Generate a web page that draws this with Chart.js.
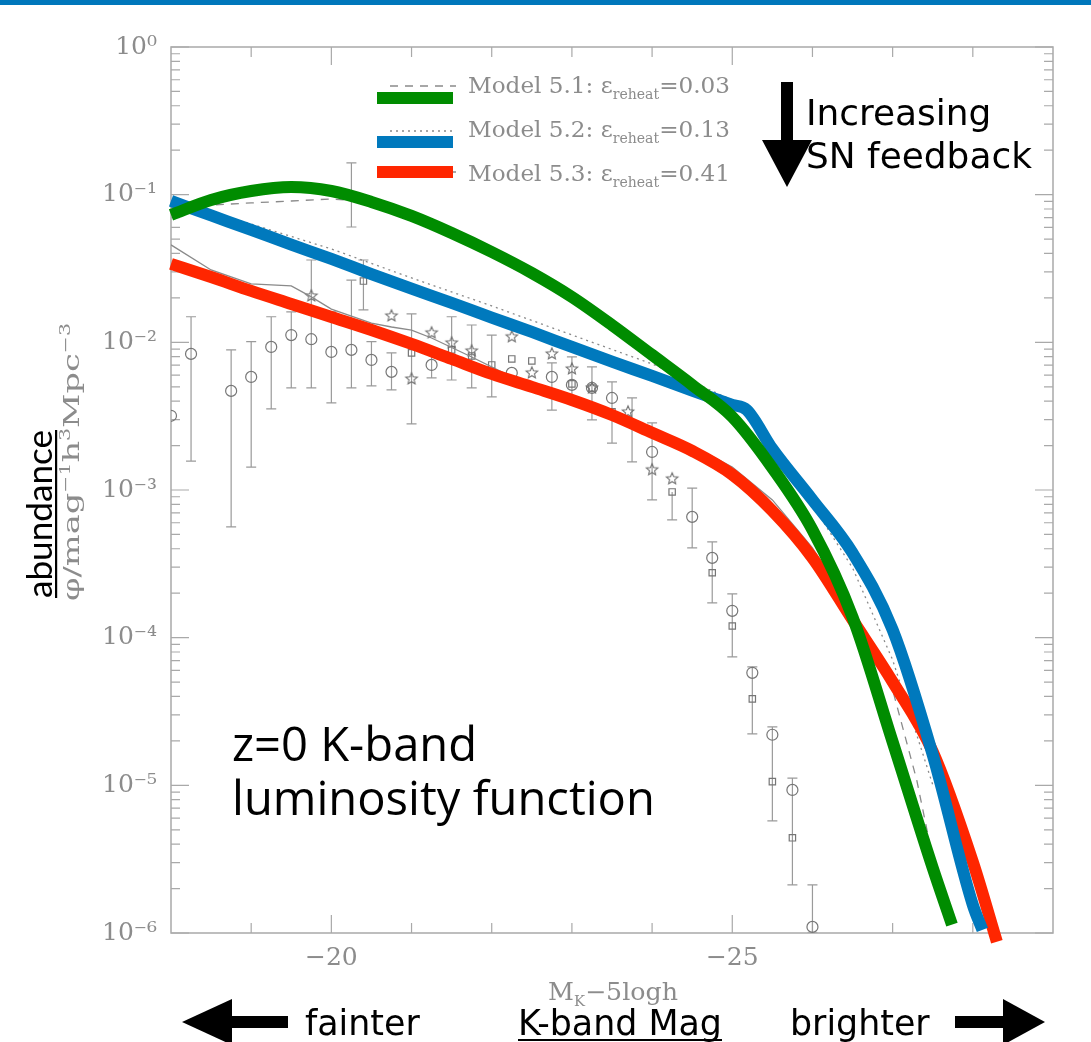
<!DOCTYPE html>
<html><head><meta charset="utf-8">
<script src="https://cdn.jsdelivr.net/npm/chart.js@4/dist/chart.umd.min.js"></script>
<style>html,body{margin:0;padding:0;background:#fff;overflow:hidden}</style>
</head><body>
<canvas id="c" width="1091" height="1042"></canvas>
<script>
// ---------- axis ranges / ticks ----------
const xRange = [-29, -18];
const yRange = [1e-6, 1];
const xTickValues = [-20, -25];
const yTickValues = [1, 1e-1, 1e-2, 1e-3, 1e-4, 1e-5, 1e-6];

// ---------- thick model curves (hand drawn over) ----------
const greenMag = [-18,-18.5,-19,-19.5,-20,-20.5,-21,-21.5,-22,-22.5,-23,-23.5,-24,-24.5,-25,-25.5,-26,-26.5,-27,-27.5,-27.74];
const greenPhi = [0.0729,0.0921,0.1059,0.1127,0.1059,0.0893,0.0718,0.0550,0.0409,0.0295,0.0203,0.0131,0.00822,0.00515,0.00313,0.00141,5.37e-4,1.38e-4,1.97e-5,2.76e-6,1.14e-6];
const blueMag = [-18,-18.5,-19,-19.5,-20,-20.5,-21,-21.5,-22,-22.5,-23,-23.5,-24,-24.5,-25,-25.18,-25.5,-26,-26.5,-27,-27.5,-28,-28.12];
const bluePhi = [0.0907,0.0723,0.0577,0.0459,0.0367,0.0290,0.0231,0.0185,0.0147,0.01176,0.00931,0.00740,0.00592,0.00471,0.00377,0.00349,0.00190,8.57e-4,3.75e-4,1.13e-4,1.61e-5,1.55e-6,1.05e-6];
const redMag = [-18,-18.5,-19,-19.5,-20,-20.5,-21,-21.5,-22,-22.5,-23,-23.5,-24,-24.5,-25,-25.5,-26,-26.5,-27,-27.5,-28,-28.3];
const redPhi = [0.0340,0.0277,0.0223,0.0182,0.01486,0.01213,0.00975,0.00772,0.00611,0.00499,0.00407,0.00322,0.00244,0.00184,0.00127,7.22e-4,3.47e-4,1.32e-4,5.02e-5,1.69e-5,3.03e-6,8.72e-7];

// ---------- thin original model lines ----------
const m51Mag = [-18,-18.5,-19,-19.5,-20,-20.5,-21,-21.5,-22,-22.5,-23,-23.5,-24,-24.5,-25,-25.5,-26,-26.5,-27,-27.3,-27.53];
const m51Phi = [0.0813,0.0851,0.0879,0.0906,0.0935,0.0893,0.0718,0.0550,0.0409,0.0295,0.0203,0.0131,0.00822,0.00515,0.00313,0.00141,5.9e-4,1.54e-4,4.43e-5,1.09e-5,2.68e-6];
const m52Mag = [-18,-19,-20,-21,-22,-23,-24,-25,-25.5,-26,-26.5,-27,-27.5];
const m52Phi = [0.0907,0.0633,0.0429,0.0273,0.01764,0.01122,0.00714,0.00407,0.00202,7.93e-4,2.97e-4,7.07e-5,1.01e-5];
const m53Mag = [-18,-18.5,-19,-19.5,-19.75,-20,-20.5,-20.75,-21,-21.25,-21.75,-22.25,-22.75,-23.5,-24,-24.5,-25,-25.5,-26,-26.5,-27,-27.5,-28];
const m53Phi = [0.0457,0.0309,0.0249,0.0241,0.0203,0.0168,0.0135,0.0127,0.0121,0.0107,7.96e-3,5.83e-3,4.47e-3,3.48e-3,2.63e-3,1.99e-3,1.43e-3,8.57e-4,4.06e-4,1.50e-4,5.60e-5,1.74e-5,3.13e-6];

// ---------- observational points ----------
const circMag = [-18.0,-18.25,-18.75,-19.0,-19.25,-19.5,-19.75,-20.0,-20.25,-20.5,-20.75,-21.25,-22.25,-22.75,-23.0,-23.25,-23.5,-24.0,-24.5,-24.75,-25.0,-25.25,-25.5,-25.75,-26.0];
const circPhi = [3.18e-3,8.35e-3,4.69e-3,5.83e-3,9.31e-3,1.12e-2,1.05e-2,8.61e-3,8.89e-3,7.60e-3,6.31e-3,7.03e-3,6.21e-3,5.83e-3,5.15e-3,4.91e-3,4.20e-3,1.81e-3,6.58e-4,3.47e-4,1.52e-4,5.78e-5,2.20e-5,9.31e-6,1.10e-6];
const circLo  = [null,1.57e-3,5.62e-4,1.43e-3,3.54e-3,4.91e-3,4.91e-3,3.89e-3,4.91e-3,5.07e-3,4.76e-3,5.74e-3,null,3.48e-3,4.07e-3,2.98e-3,null,8.57e-4,4.06e-4,null,7.41e-5,null,5.75e-6,2.12e-6,1e-6];
const circHi  = [null,1.49e-2,8.89e-3,1.01e-2,1.49e-2,1.61e-2,3.61e-2,1.61e-2,2.64e-2,1.01e-2,8.48e-3,8.61e-3,null,7.26e-3,7.96e-3,6.81e-3,null,2.85e-3,1.03e-3,null,1.98e-4,null,2.49e-5,1.12e-5,2.12e-6];

const sqMag = [-20.25,-20.4,-21.0,-21.5,-21.75,-22.0,-22.25,-22.5,-23.0,-23.25,-23.5,-23.75,-24.25,-24.75,-25.0,-25.25,-25.5,-25.75];
const sqPhi = [9.95e-2,2.60e-2,8.48e-3,8.89e-3,8.09e-3,7.03e-3,7.72e-3,7.48e-3,5.23e-3,4.91e-3,3.38e-3,2.80e-3,9.70e-4,2.75e-4,1.20e-4,3.85e-5,1.06e-5,4.41e-6];
const sqLo  = [6.04e-2,1.66e-2,null,5.56e-3,4.91e-3,4.27e-3,null,null,null,null,2.08e-3,1.55e-3,6.28e-4,1.72e-4,null,2.23e-5,null,null];
const sqHi  = [1.64e-1,3.61e-2,null,1.49e-2,1.31e-2,1.12e-2,null,null,null,null,5.40e-3,4.20e-3,null,4.45e-4,null,6.34e-5,null,null];

const starMag = [-19.75,-20.75,-21.0,-21.25,-21.5,-21.75,-22.25,-22.5,-22.75,-23.0,-23.25,-23.7,-24.0,-24.25];
const starPhi = [2.06e-2,1.51e-2,5.65e-3,1.16e-2,9.91e-3,8.75e-3,1.09e-2,6.21e-3,8.35e-3,6.61e-3,4.91e-3,3.38e-3,1.37e-3,1.19e-3];
const starLo  = [null,null,2.80e-3,null,null,null,null,null,null,null,null,null,null,null];
const starHi  = [null,null,1.56e-2,null,null,null,null,null,null,null,null,null,null,null];

// ---------- text ----------
const legendLabels = [['Model 5.1: ', '=0.03'], ['Model 5.2: ', '=0.13'], ['Model 5.3: ', '=0.41']];

const GREEN = '#008c00', BLUE = '#0079bd', RED = '#ff2600', GRAY = '#8a8a8a', FRAME = '#a9a9a9';
const SERIF = '"DejaVu Serif"';

const pts = (xs, ys) => xs.map((x, i) => ({x, y: ys[i]}));
const supMap = {'-':'\u207B','0':'\u2070','1':'\u00B9','2':'\u00B2','3':'\u00B3','4':'\u2074','5':'\u2075','6':'\u2076','7':'\u2077','8':'\u2078','9':'\u2079'};
const yLabel = v => '10' + String(Math.round(Math.log10(v))).split('').map(c => supMap[c]).join('');

function starImage(r) {
  const c = document.createElement('canvas');
  c.width = c.height = 2 * r + 4;
  const g = c.getContext('2d');
  const cx = r + 2, cy = r + 2;
  g.strokeStyle = '#707070'; g.lineWidth = 1.1;
  g.beginPath();
  for (let i = 0; i < 10; i++) {
    const a = -Math.PI / 2 + i * Math.PI / 5;
    const rr = i % 2 ? r * 0.45 : r;
    g.lineTo(cx + rr * Math.cos(a), cy + rr * Math.sin(a));
  }
  g.closePath(); g.stroke();
  return c;
}

function thick(label, xs, ys, color) {
  return {label, data: pts(xs, ys), borderColor: color, borderWidth: 12, pointRadius: 0,
    cubicInterpolationMode: 'monotone', borderCapStyle: 'butt', borderJoinStyle: 'round', clip: false, fill: false};
}
function thin(label, xs, ys, dash) {
  return {label, data: pts(xs, ys), borderColor: GRAY, borderWidth: 1.3, pointRadius: 0, tension: 0,
    borderDash: dash, fill: false};
}
function marks(label, xs, ys, style, r, lo, hi) {
  return {label, data: pts(xs, ys), showLine: false, pointStyle: style, pointRadius: r,
    pointBorderColor: '#767676', pointBackgroundColor: 'rgba(0,0,0,0)', pointBorderWidth: 1.2,
    errLo: lo, errHi: hi};
}

const errorBars = {
  id: 'errorBars',
  beforeDatasetsDraw(chart) {
    const {ctx, chartArea: a} = chart;
    const xs = chart.scales.x, ys = chart.scales.y;
    ctx.save();
    ctx.beginPath(); ctx.rect(a.left, a.top, a.right - a.left, a.bottom - a.top); ctx.clip();
    ctx.strokeStyle = '#9a9a9a'; ctx.lineWidth = 1.2;
    chart.data.datasets.forEach(ds => {
      if (!ds.errLo) return;
      ds.data.forEach((p, i) => {
        const lo = ds.errLo[i], hi = ds.errHi[i];
        if (lo == null && hi == null) return;
        const px = xs.getPixelForValue(p.x);
        const y1 = ys.getPixelForValue(hi != null ? hi : p.y);
        const y2 = ys.getPixelForValue(lo != null ? lo : p.y);
        ctx.beginPath(); ctx.moveTo(px, y1); ctx.lineTo(px, y2);
        if (hi != null) { ctx.moveTo(px - 5, y1); ctx.lineTo(px + 5, y1); }
        if (lo != null) { ctx.moveTo(px - 5, y2); ctx.lineTo(px + 5, y2); }
        ctx.stroke();
      });
    });
    ctx.restore();
  }
};

const frame = {
  id: 'frame',
  beforeDatasetsDraw(chart) {
    const {ctx, chartArea: a} = chart;
    const xs = chart.scales.x, ys = chart.scales.y;
    ctx.save();
    ctx.strokeStyle = FRAME; ctx.lineWidth = 1.5;
    ctx.strokeRect(a.left, a.top, a.right - a.left, a.bottom - a.top);
    ctx.lineWidth = 1.2;
    ctx.beginPath();
    for (let e = -6; e <= 0; e++) {
      for (let k = 1; k <= 9; k++) {
        const v = k * Math.pow(10, e);
        if (v > 1.0000001 || v < 0.9999e-6) continue;
        const py = ys.getPixelForValue(v);
        const len = k === 1 ? 18 : 9;
        ctx.moveTo(a.left, py); ctx.lineTo(a.left + len, py);
        ctx.moveTo(a.right, py); ctx.lineTo(a.right - len, py);
      }
    }
    for (let m = -19; m >= -28; m--) {
      const px = xs.getPixelForValue(m);
      const len = xTickValues.includes(m) ? 18 : 10;
      ctx.moveTo(px, a.bottom); ctx.lineTo(px, a.bottom - len);
      ctx.moveTo(px, a.top); ctx.lineTo(px, a.top + len);
    }
    ctx.stroke();
    ctx.restore();
  }
};

function drawRuns(ctx, x, y, runs, family, color, rotate, target) {
  ctx.save(); ctx.translate(x, y); if (rotate) ctx.rotate(-Math.PI / 2);
  let w = 0;
  for (const r of runs) { ctx.font = r.s + 'px ' + family; w += ctx.measureText(r.t).width; }
  if (target) ctx.scale(target / w, 1);
  ctx.fillStyle = color; ctx.textBaseline = 'alphabetic'; ctx.textAlign = 'left';
  let cx = 0;
  for (const r of runs) {
    ctx.font = r.s + 'px ' + family;
    ctx.fillText(r.t, cx, r.dy || 0);
    cx += ctx.measureText(r.t).width;
  }
  ctx.restore();
}
function fitSize(ctx, text, family, target) {
  ctx.font = '100px ' + family;
  return 100 * target / ctx.measureText(text).width;
}

const annotations = {
  id: 'annotations',
  afterDraw(chart) {
    const ctx = chart.ctx;
    ctx.save();
    ctx.fillStyle = '#0077bb'; ctx.fillRect(0, 0, 1091, 5);

    // legend
    const rows = [
      {y: 93, dash: [8, 7], color: GREEN, barY: 92, lineY: 86},
      {y: 137, dash: [2, 4], color: BLUE, barY: 136, lineY: 131},
      {y: 181, dash: [], color: RED, barY: 166, lineY: 172}
    ];
    rows.forEach((r, i) => {
      ctx.strokeStyle = GRAY; ctx.lineWidth = 1.3; ctx.setLineDash(r.dash);
      ctx.beginPath(); ctx.moveTo(390, r.lineY); ctx.lineTo(456, r.lineY); ctx.stroke();
      ctx.setLineDash([]);
      ctx.fillStyle = r.color; ctx.fillRect(377, r.barY, 76, 12);
      drawRuns(ctx, 468, r.y, [
        {t: legendLabels[i][0], s: 23}, {t: '\u03B5', s: 23}, {t: 'reheat', s: 14, dy: 6}, {t: legendLabels[i][1], s: 23}
      ], SERIF, '#8c8c8c', false, 262);
    });

    // Increasing SN feedback
    ctx.fillStyle = '#000';
    ctx.fillRect(781, 82, 12, 60);
    ctx.beginPath(); ctx.moveTo(762, 140); ctx.lineTo(812, 140); ctx.lineTo(787, 187); ctx.closePath(); ctx.fill();
    const COMIC = '"DejaVu Sans"';
    let s = fitSize(ctx, 'SN feedback', COMIC, 226);
    ctx.font = s + 'px ' + COMIC; ctx.textAlign = 'left'; ctx.textBaseline = 'alphabetic';
    ctx.fillText('Increasing', 806, 125);
    ctx.fillText('SN feedback', 806, 168);

    // z=0 K-band luminosity function
    const SANS = '"Open Sans"';
    s = fitSize(ctx, 'luminosity function', SANS, 423);
    ctx.font = s + 'px ' + SANS;
    ctx.fillText('z=0 K-band', 232, 761);
    ctx.fillText('luminosity function', 232, 815);

    // y titles
    s = fitSize(ctx, 'abundance', '"Lato"', 168);
    ctx.save(); ctx.translate(52, 598); ctx.rotate(-Math.PI / 2);
    ctx.font = s + 'px "Lato"'; ctx.fillStyle = '#000';
    ctx.fillText('abundance', 0, 0);
    ctx.fillRect(0, 3, 168, 2.2);
    ctx.restore();
    drawRuns(ctx, 79, 601, [
      {t: '\u03C6/mag', s: 23}, {t: '\u22121', s: 14, dy: -9}, {t: 'h', s: 23}, {t: '3', s: 14, dy: -9},
      {t: 'Mpc', s: 23}, {t: '\u22123', s: 14, dy: -9}
    ], SERIF, '#8c8c8c', true, 278);

    // x title
    drawRuns(ctx, 548, 1000, [{t: 'M', s: 24}, {t: 'K', s: 14, dy: 6}, {t: '\u22125logh', s: 24}], SERIF, '#8c8c8c', false, 130);

    // bottom row
    ctx.fillStyle = '#000';
    s = fitSize(ctx, 'K-band Mag', COMIC, 204);
    ctx.font = s + 'px ' + COMIC;
    ctx.fillText('fainter', 305, 1035);
    ctx.fillText('K-band Mag', 518, 1035);
    ctx.fillRect(518, 1039, 204, 2);
    ctx.fillText('brighter', 790, 1035);
    ctx.beginPath(); ctx.moveTo(182, 1022); ctx.lineTo(232, 999); ctx.lineTo(232, 1045); ctx.closePath(); ctx.fill();
    ctx.fillRect(230, 1016, 58, 12);
    ctx.beginPath(); ctx.moveTo(1045, 1022); ctx.lineTo(1003, 999); ctx.lineTo(1003, 1045); ctx.closePath(); ctx.fill();
    ctx.fillRect(955, 1016, 50, 12);
    ctx.restore();
  }
};

new Chart(document.getElementById('c'), {
  type: 'line',
  data: {
    datasets: [
      thick('Model 5.1 (hand)', greenMag, greenPhi, GREEN),
      thick('Model 5.2 (hand)', blueMag, bluePhi, BLUE),
      thick('Model 5.3 (hand)', redMag, redPhi, RED),
      thin('Model 5.1', m51Mag, m51Phi, [8, 7]),
      thin('Model 5.2', m52Mag, m52Phi, [2, 4]),
      thin('Model 5.3', m53Mag, m53Phi, []),
      marks('stars', starMag, starPhi, starImage(6), 6, starLo, starHi),
      marks('squares', sqMag, sqPhi, 'rect', 4.5, sqLo, sqHi),
      marks('circles', circMag, circPhi, 'circle', 5.5, circLo, circHi)
    ]
  },
  options: {
    responsive: false, animation: false, devicePixelRatio: 1,
    layout: {padding: {left: 0, right: 38, top: 47, bottom: 0}},
    plugins: {legend: {display: false}, tooltip: {enabled: false}},
    scales: {
      x: {
        type: 'linear', min: xRange[0], max: xRange[1], reverse: true,
        afterFit: sc => { sc.height = 109; },
        afterBuildTicks: sc => { sc.ticks = xTickValues.map(v => ({value: v})); },
        ticks: {callback: v => '\u2212' + Math.abs(v), font: {family: 'DejaVu Serif', size: 25}, color: '#8c8c8c',
          padding: 10, maxRotation: 0, autoSkip: false},
        grid: {display: false, drawTicks: false}, border: {display: false}
      },
      y: {
        type: 'logarithmic', min: yRange[0], max: yRange[1],
        afterFit: sc => { sc.width = 171; },
        afterBuildTicks: sc => { sc.ticks = yTickValues.map(v => ({value: v})); },
        ticks: {callback: v => yLabel(v), font: {family: 'DejaVu Serif', size: 25}, color: '#8c8c8c',
          padding: 14, autoSkip: false},
        grid: {display: false, drawTicks: false}, border: {display: false}
      }
    }
  },
  plugins: [frame, errorBars, annotations]
});
</script>
</body></html>
